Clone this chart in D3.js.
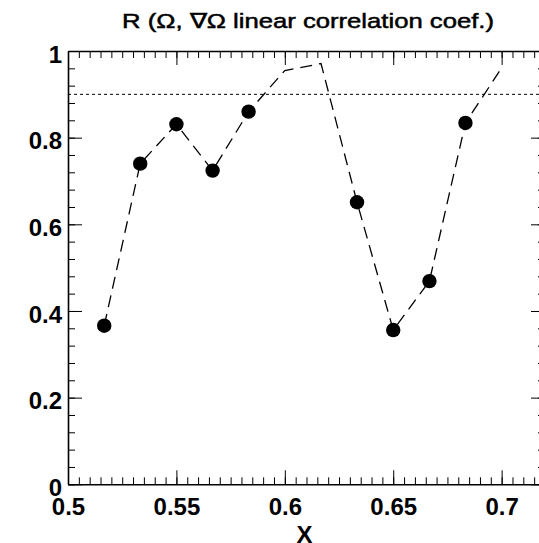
<!DOCTYPE html>
<html>
<head>
<meta charset="utf-8">
<script src="https://cdn.jsdelivr.net/npm/d3@7"></script>
<style>
  body { margin: 0; background: #fff; }
  svg { display: block; }
  text { font-family: 'Liberation Sans', Arial, Helvetica, sans-serif; fill: #000; }
</style>
</head>
<body>
<div id="chart"></div>
<script>
'use strict'

// data
const xValues = [0.5167, 0.5333, 0.55, 0.5667, 0.5833, 0.6, 0.6167, 0.6333, 0.65, 0.6667, 0.6833, 0.7]
const rValues = [0.366, 0.740, 0.831, 0.724, 0.860, 0.955, 0.971, 0.651, 0.356, 0.469, 0.834, 0.961]
const threshold = 0.9
const xTicks = [0.5, 0.55, 0.6, 0.65, 0.7]
const yTicks = [0, 0.2, 0.4, 0.6, 0.8, 1]
const xDomain = [0.5, 0.72]
const yDomain = [0, 1]
const title = 'R (\u03A9, \u2207\u03A9 linear correlation coef.)'
const xTitle = 'X'

const W = 539
const H = 543
const margin = { top: 51, left: 68 }
const width = 477
const height = 433.3

const svg = d3.select('#chart')
  .append('svg')
  .attr('width', W)
  .attr('height', H)

const g = svg.append('g')
  .attr('transform', `translate(${margin.left}, ${margin.top})`)

const xScale = d3.scaleLinear().domain(xDomain).range([0, width])
const yScale = d3.scaleLinear().domain(yDomain).range([height, 0])

const xMinor = d3.range(0.5, 0.7201, 0.005)
const yMinor = d3.range(0, 1.0001, 0.04)

const fmt = d => d3.format('')(+d.toFixed(2))

function styleAxis (sel) {
  sel.select('.domain').attr('stroke', '#000').attr('stroke-width', 1.6)
  sel.selectAll('.tick line').attr('stroke', '#000').attr('stroke-width', 1)
}

// bottom axis (ticks pointing in)
g.append('g')
  .attr('transform', `translate(0, ${height})`)
  .call(d3.axisBottom(xScale).tickValues(xMinor).tickSize(-7).tickSizeOuter(0).tickFormat(''))
  .call(styleAxis)
g.append('g')
  .attr('transform', `translate(0, ${height})`)
  .call(d3.axisBottom(xScale).tickValues(xTicks).tickSize(-14).tickSizeOuter(0).tickFormat(fmt))
  .call(styleAxis)
  .call(a => a.select('.domain').remove())
  .call(a => a.selectAll('text')
    .attr('y', 31)
    .attr('dy', null)
    .style('font-size', '24px')
    .style('font-weight', 'bold'))

// top axis
g.append('g')
  .call(d3.axisTop(xScale).tickValues(xMinor).tickSize(-7).tickSizeOuter(0).tickFormat(''))
  .call(styleAxis)
g.append('g')
  .call(d3.axisTop(xScale).tickValues(xTicks).tickSize(-14).tickSizeOuter(0).tickFormat(''))
  .call(styleAxis)
  .call(a => a.select('.domain').remove())

// left axis
g.append('g')
  .call(d3.axisLeft(yScale).tickValues(yMinor).tickSize(-7).tickSizeOuter(0).tickFormat(''))
  .call(styleAxis)
g.append('g')
  .call(d3.axisLeft(yScale).tickValues(yTicks).tickSize(-14).tickSizeOuter(0).tickFormat(fmt))
  .call(styleAxis)
  .call(a => a.select('.domain').remove())
  .call(a => a.selectAll('text')
    .attr('x', -6)
    .attr('dy', '0.46em')
    .style('font-size', '24px')
    .style('font-weight', 'bold'))

// right axis
g.append('g')
  .attr('transform', `translate(${width}, 0)`)
  .call(d3.axisRight(yScale).tickValues(yMinor).tickSize(-7).tickSizeOuter(0).tickFormat(''))
  .call(styleAxis)
g.append('g')
  .attr('transform', `translate(${width}, 0)`)
  .call(d3.axisRight(yScale).tickValues(yTicks).tickSize(-14).tickSizeOuter(0).tickFormat(''))
  .call(styleAxis)
  .call(a => a.select('.domain').remove())

// threshold line
g.append('line')
  .attr('x1', 0)
  .attr('x2', width)
  .attr('y1', yScale(threshold))
  .attr('y2', yScale(threshold))
  .attr('stroke', '#000')
  .attr('stroke-width', 1)
  .attr('stroke-dasharray', '3,3')

const data = xValues.map((x, i) => ({ x, r: rValues[i] }))

// dashed curve
const line = d3.line()
  .x(d => xScale(d.x))
  .y(d => yScale(d.r))

g.append('path')
  .datum(data)
  .attr('d', line)
  .attr('fill', 'none')
  .attr('stroke', '#000')
  .attr('stroke-width', 1.3)
  .attr('stroke-dasharray', '12,7')

// markers where R below threshold
g.selectAll('circle.pt')
  .data(data.filter(d => d.r < threshold))
  .enter()
  .append('circle')
  .attr('class', 'pt')
  .attr('cx', d => xScale(d.x))
  .attr('cy', d => yScale(d.r))
  .attr('r', 7.2)
  .attr('fill', '#000')

// titles
svg.append('text')
  .attr('x', 308)
  .attr('y', 28)
  .attr('text-anchor', 'middle')
  .attr('textLength', 372)
  .attr('lengthAdjust', 'spacingAndGlyphs')
  .attr('stroke', '#000')
  .attr('stroke-width', 0.5)
  .style('font-size', '21px')
  .text(title)

svg.append('text')
  .attr('x', margin.left + width / 2 - 2)
  .attr('y', 543)
  .attr('text-anchor', 'middle')
  .style('font-size', '24px')
  .style('font-weight', 'bold')
  .text(xTitle)
</script>
</body>
</html>
